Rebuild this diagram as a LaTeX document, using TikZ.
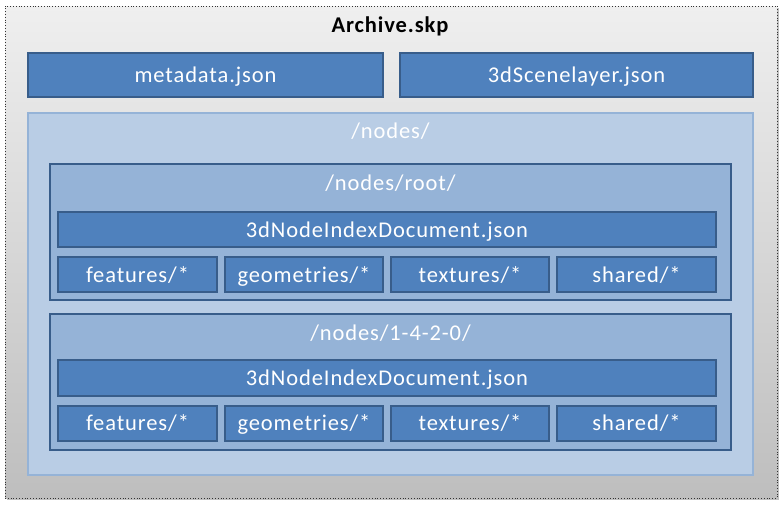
\documentclass[tikz,border=0pt]{standalone}
\usepackage{fontspec}
\setmainfont{Carlito}[LetterSpace=4]
\definecolor{dfill}{HTML}{4F81BD}
\definecolor{dline}{HTML}{385D8A}
\definecolor{mfill}{HTML}{95B3D7}
\definecolor{lfill}{HTML}{B9CDE5}
\definecolor{gtop}{HTML}{EFEFEF}
\definecolor{gbot}{HTML}{BEBEBE}
\newcommand{\boxfont}{\fontsize{22.5}{26}\selectfont}
\tikzset{
  txt/.style={inner sep=0pt, font=\boxfont, text height=15.5pt, text depth=0.5pt},
  filebox/.style={txt, draw=dline, line width=2pt, fill=dfill, text=white},
  folderbox/.style={draw=dline, line width=2pt, fill=mfill, inner sep=0pt},
  nodesbox/.style={draw=mfill, line width=2pt, fill=lfill, inner sep=0pt},
  foldlabel/.style={txt, text=white},
}
\begin{document}
\begin{tikzpicture}[x=1pt,y=-1pt]
\useasboundingbox (0,0) rectangle (782,506);
% shadow
\fill[black!25] (7,8) rectangle (779,500);
\node[draw=black!80, dotted, line width=0.8pt, top color=gtop, bottom color=gbot, inner sep=0pt,
  minimum width=772pt, minimum height=492pt] (archive) at (391,252) {};
\node[txt, font=\boxfont\bfseries] (title) at (390,25) {Archive.skp};
\node[filebox, minimum width=355pt, minimum height=44pt] (meta) at (205.5,75) {metadata.json};
\node[filebox, minimum width=353pt, minimum height=44pt] (scene) at (576.5,75) {3dScenelayer.json};
\node[nodesbox, minimum width=725pt, minimum height=362pt] (nodes) at (390.5,294) {};
\node[foldlabel] (nodeslabel) at (390.5,131) {/nodes/};
% root
\node[folderbox, minimum width=681pt, minimum height=136pt] (root) at (390.5,232) {};
\node[foldlabel] (rootlabel) at (390.5,183) {/nodes/root/};
\node[filebox, minimum width=658pt, minimum height=35pt] (idx1) at (387,229.5) {3dNodeIndexDocument.json};
\node[filebox, minimum width=159pt, minimum height=35pt] (feat1) at (137.5,274.5) {features/*};
\node[filebox, minimum width=158pt, minimum height=35pt] (geom1) at (304,274.5) {geometries/*};
\node[filebox, minimum width=158pt, minimum height=35pt] (tex1) at (470,274.5) {textures/*};
\node[filebox, minimum width=159pt, minimum height=35pt] (shar1) at (636.5,274.5) {shared/*};
% 1-4-2-0
\node[folderbox, minimum width=681pt, minimum height=136pt] (sub) at (390.5,382) {};
\node[foldlabel] (sublabel) at (390.5,333) {/nodes/1-4-2-0/};
\node[filebox, minimum width=658pt, minimum height=36pt] (idx2) at (387,378) {3dNodeIndexDocument.json};
\node[filebox, minimum width=159pt, minimum height=35pt] (feat2) at (137.5,423) {features/*};
\node[filebox, minimum width=158pt, minimum height=35pt] (geom2) at (304,423) {geometries/*};
\node[filebox, minimum width=158pt, minimum height=35pt] (tex2) at (470,423) {textures/*};
\node[filebox, minimum width=159pt, minimum height=35pt] (shar2) at (636.5,423) {shared/*};
\end{tikzpicture}
\end{document}
